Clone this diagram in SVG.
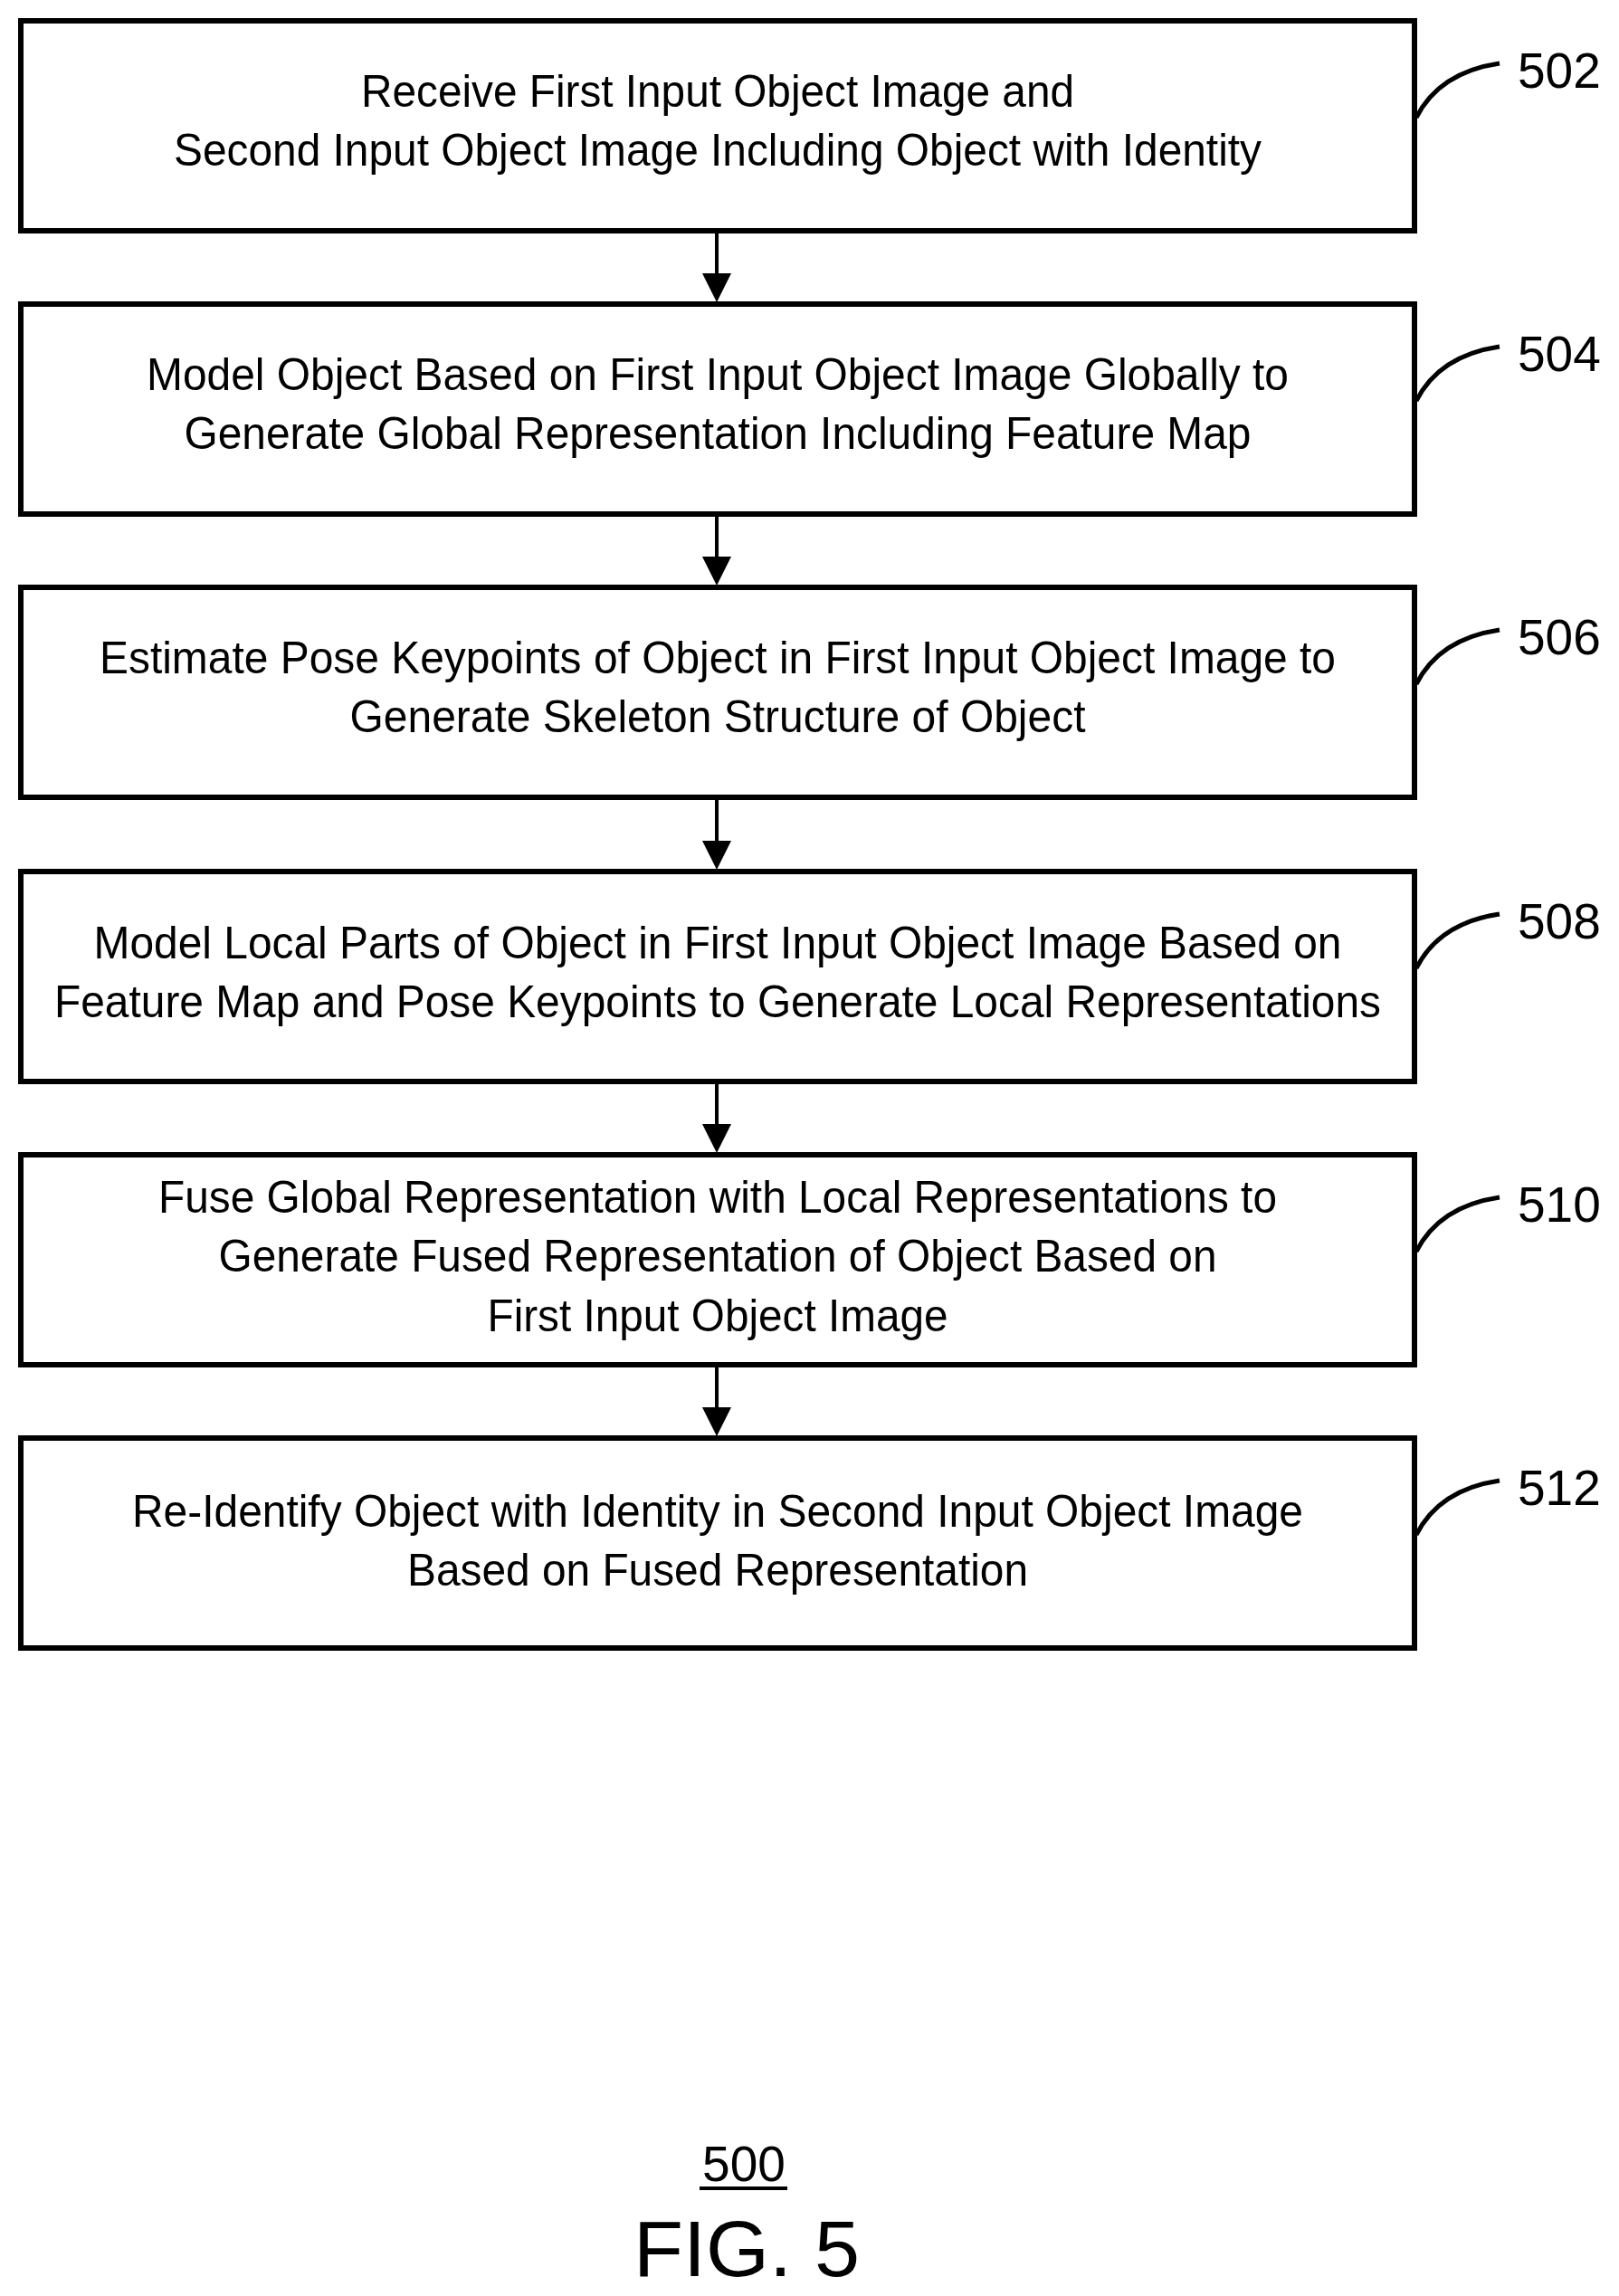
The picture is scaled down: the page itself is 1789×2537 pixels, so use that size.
<svg xmlns="http://www.w3.org/2000/svg" width="1789" height="2537" viewBox="0 0 1789 2537">
<style>
.box{fill:#fff;stroke:#000;stroke-width:6}
.t{font-family:"Liberation Sans",Arial,sans-serif;font-size:50px;fill:#000}
.c{text-anchor:middle}
.lab{font-family:"Liberation Sans",Arial,sans-serif;font-size:55px;fill:#000}
.ld{fill:none;stroke:#000;stroke-width:5}
.ar{stroke:#000;stroke-width:4;fill:none;marker-end:url(#ah)}
</style>
<defs>
<marker id="ah" markerWidth="8" markerHeight="8" refX="7" refY="4" orient="auto" markerUnits="strokeWidth">
<path d="M0,0 L8,4 L0,8 z" fill="#000"/>
</marker>
</defs>
<rect width="1789" height="2537" fill="#fff"/>
<g id="connectors">
<line class="ar" x1="792" y1="258" x2="792" y2="330"/>
<line class="ar" x1="792" y1="571" x2="792" y2="643"/>
<line class="ar" x1="792" y1="884" x2="792" y2="957"/>
<line class="ar" x1="792" y1="1198" x2="792" y2="1270"/>
<line class="ar" x1="792" y1="1511" x2="792" y2="1583"/>
</g>
<g id="n502">
<rect class="box" x="23" y="23" width="1540" height="232"/>
<text class="t c" x="793" y="118" textLength="788" lengthAdjust="spacingAndGlyphs">Receive First Input Object Image and</text>
<text class="t c" x="793" y="183" textLength="1202" lengthAdjust="spacingAndGlyphs">Second Input Object Image Including Object with Identity</text>
<path class="ld" d="M1565,130 Q1590,80 1657,70"/>
<text class="lab" x="1677" y="97">502</text>
</g>
<g id="n504">
<rect class="box" x="23" y="336" width="1540" height="232"/>
<text class="t c" x="793" y="431" textLength="1262" lengthAdjust="spacingAndGlyphs">Model Object Based on First Input Object Image Globally to</text>
<text class="t c" x="793" y="496" textLength="1179" lengthAdjust="spacingAndGlyphs">Generate Global Representation Including Feature Map</text>
<path class="ld" d="M1565,443 Q1590,393 1657,383"/>
<text class="lab" x="1677" y="410">504</text>
</g>
<g id="n506">
<rect class="box" x="23" y="649" width="1540" height="232"/>
<text class="t c" x="793" y="744" textLength="1366" lengthAdjust="spacingAndGlyphs">Estimate Pose Keypoints of Object in First Input Object Image to</text>
<text class="t c" x="793" y="809" textLength="813" lengthAdjust="spacingAndGlyphs">Generate Skeleton Structure of Object</text>
<path class="ld" d="M1565,756 Q1590,706 1657,696"/>
<text class="lab" x="1677" y="723">506</text>
</g>
<g id="n508">
<rect class="box" x="23" y="963" width="1540" height="232"/>
<text class="t c" x="793" y="1059" textLength="1379" lengthAdjust="spacingAndGlyphs">Model Local Parts of Object in First Input Object Image Based on</text>
<text class="t c" x="793" y="1124" textLength="1466" lengthAdjust="spacingAndGlyphs">Feature Map and Pose Keypoints to Generate Local Representations</text>
<path class="ld" d="M1565,1070 Q1590,1020 1657,1010"/>
<text class="lab" x="1677" y="1037">508</text>
</g>
<g id="n510">
<rect class="box" x="23" y="1276" width="1540" height="232"/>
<text class="t c" x="793" y="1340" textLength="1236" lengthAdjust="spacingAndGlyphs">Fuse Global Representation with Local Representations to</text>
<text class="t c" x="793" y="1405" textLength="1103" lengthAdjust="spacingAndGlyphs">Generate Fused Representation of Object Based on</text>
<text class="t c" x="793" y="1471" textLength="509" lengthAdjust="spacingAndGlyphs">First Input Object Image</text>
<path class="ld" d="M1565,1383 Q1590,1333 1657,1323"/>
<text class="lab" x="1677" y="1350">510</text>
</g>
<g id="n512">
<rect class="box" x="23" y="1589" width="1540" height="232"/>
<text class="t c" x="793" y="1687" textLength="1294" lengthAdjust="spacingAndGlyphs">Re-Identify Object with Identity in Second Input Object Image</text>
<text class="t c" x="793" y="1752" textLength="686" lengthAdjust="spacingAndGlyphs">Based on Fused Representation</text>
<path class="ld" d="M1565,1696 Q1590,1646 1657,1636"/>
<text class="lab" x="1677" y="1663">512</text>
</g>
<g id="caption">
<text class="lab c" x="822" y="2410" font-size="52">500</text>
<line x1="773" y1="2418" x2="870" y2="2418" stroke="#000" stroke-width="4"/>
<text x="825" y="2515" text-anchor="middle" font-family="Liberation Sans, Arial, sans-serif" font-size="88" textLength="250" lengthAdjust="spacingAndGlyphs">FIG. 5</text>
</g>
</svg>
